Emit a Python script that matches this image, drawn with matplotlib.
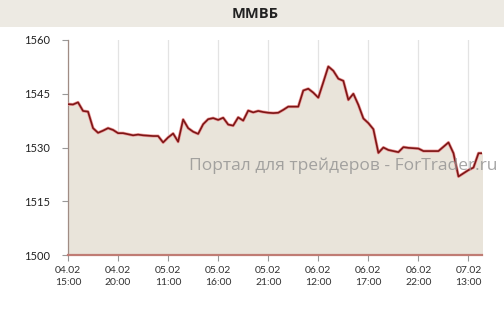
import matplotlib
matplotlib.use("Agg")
import matplotlib.pyplot as plt
import numpy as np

title = "ММВБ"
watermark = "Портал для трейдеров - ForTrader.ru"
values = [1542.1, 1542.0, 1542.6, 1540.2, 1540.0, 1535.4, 1534.1, 1534.7, 1535.4, 1534.9,
          1534.0, 1534.0, 1533.7, 1533.4, 1533.6, 1533.4, 1533.3, 1533.2, 1533.2, 1531.4,
          1532.8, 1533.9, 1531.6, 1537.8, 1535.4, 1534.4, 1533.8, 1536.5, 1537.9, 1538.2,
          1537.7, 1538.3, 1536.4, 1536.1, 1538.4, 1537.5, 1540.3, 1539.8, 1540.2, 1539.9,
          1539.7, 1539.6, 1539.7, 1540.5, 1541.4, 1541.4, 1541.4, 1545.9, 1546.4, 1545.3,
          1543.9, 1548.2, 1552.6, 1551.4, 1549.2, 1548.6, 1543.3, 1545.0, 1541.9, 1538.1,
          1536.8, 1535.1, 1528.5, 1530.0, 1529.3, 1529.0, 1528.7, 1530.1, 1529.9, 1529.8,
          1529.7, 1529.0, 1529.0, 1529.0, 1529.0, 1530.2, 1531.4, 1528.4, 1521.9, 1522.8,
          1523.7, 1524.4, 1528.4, 1528.4]
tick_labels = ["04.02\n15:00", "04.02\n20:00", "05.02\n11:00", "05.02\n16:00", "05.02\n21:00",
               "06.02\n12:00", "06.02\n17:00", "06.02\n22:00", "07.02\n13:00"]
yticks = [1500, 1515, 1530, 1545, 1560]

plt.rcParams['font.family'] = ['Lato', 'DejaVu Sans']

fig = plt.figure(figsize=(5.04, 3.12), dpi=100)
fig.patch.set_facecolor("white")

# title bar
bar = fig.add_axes([0, 1 - 27 / 312, 1, 27 / 312])
bar.set_facecolor("#EDEAE3")
bar.set_xticks([]); bar.set_yticks([])
for s in bar.spines.values():
    s.set_visible(False)
bar.text(0.506, 0.5, title, ha="center", va="center", fontsize=10.5, fontweight="bold",
         color="#222222", family=["Open Sans", "DejaVu Sans"])

ax = fig.add_axes([68 / 504, 1 - 255 / 312, (482 - 68) / 504, (255 - 40) / 312])
x = np.arange(len(values))
ax.fill_between(x, 1500, values, color="#E9E4DA", zorder=2)
ax.plot(x, values, color="#EC9A9A", lw=2.2, zorder=3, solid_joinstyle="round")
ax.plot(x, values, color="#7E1616", lw=1.2, zorder=4, solid_joinstyle="round")

ax.set_xlim(0, 82.7)
ax.set_ylim(1500, 1560)
ax.set_yticks(yticks)
ax.set_yticklabels([str(v) for v in yticks])
ticks_x = np.arange(0, 81, 10)
ax.set_xticks(ticks_x)
ax.set_xticklabels(tick_labels, linespacing=1.35)
for t in ticks_x:
    ax.axvline(t, color="#E3E3E3", lw=0.9, zorder=1)

ax.tick_params(axis="y", length=4, width=0.8, color="#999999", labelsize=8, pad=9,
               labelcolor="#222222")
ax.tick_params(axis="x", length=4, width=0.8, color="#999999", labelsize=7.5, pad=4,
               labelcolor="#333333")
ax.spines["top"].set_visible(False)
ax.spines["right"].set_visible(False)
ax.spines["left"].set_color("#A08C84")
ax.spines["left"].set_linewidth(0.9)
ax.spines["bottom"].set_color("#C07C74")
ax.spines["bottom"].set_linewidth(1.6)
ax.spines["bottom"].set_zorder(5)

fig.text(343 / 504, 1 - 166 / 312, watermark, ha="center", va="center", fontsize=12.5,
         color="#909090", alpha=0.8, family=["Open Sans", "DejaVu Sans"], zorder=10)

fig.savefig("out.png", dpi=100)
